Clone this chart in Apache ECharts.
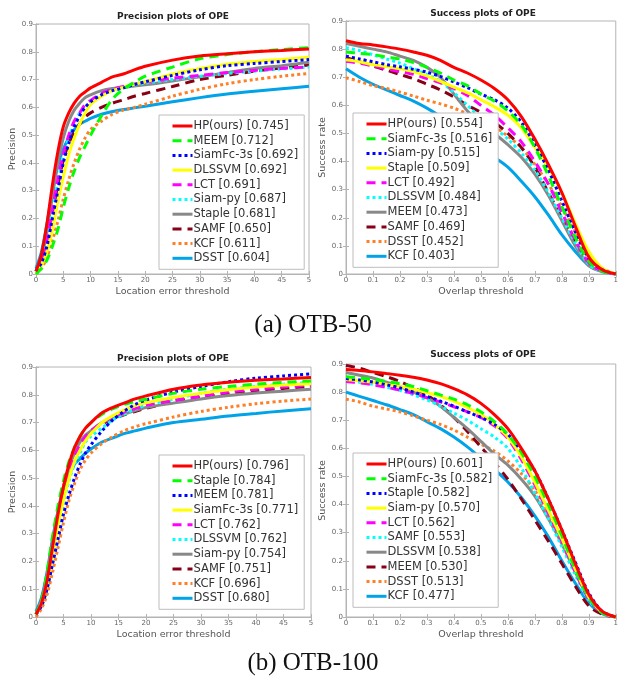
<!DOCTYPE html>
<html><head><meta charset="utf-8">
<script src="https://cdn.jsdelivr.net/npm/echarts@6/dist/echarts.min.js"></script>
<style>html,body{margin:0;padding:0;background:#fff}#c{width:621px;height:681px}</style>
</head><body><div id="c"></div><script>
// ---------- data ----------
const precX = [0,1,2,3,4,5,6,7,8,9,10,12,14,16,18,20,25,30,35,40,45,50];
const succX = [0,0.05,0.1,0.15,0.2,0.25,0.3,0.35,0.4,0.45,0.5,0.55,0.6,0.65,0.7,0.75,0.8,0.85,0.9,0.95,1];
const yTickLabels = ['0','0.1','0.2','0.3','0.4','0.5','0.6','0.7','0.8','0.9'];
const precTickLabels = ['0','5','10','15','20','25','30','35','40','45','5'];
const succTickLabels = ['0','0.1','0.2','0.3','0.4','0.5','0.6','0.7','0.8','0.9','1'];

// OTB-50 precision
const prec50Names  = ['HP(ours)','MEEM','SiamFc-3s','DLSSVM','LCT','Siam-py','Staple','SAMF','KCF','DSST'];
const prec50Scores = ['0.745','0.712','0.692','0.692','0.691','0.687','0.681','0.650','0.611','0.604'];
const prec50Values = [
 [0.01,0.07,0.18,0.32,0.44,0.53,0.58,0.615,0.64,0.655,0.67,0.69,0.71,0.72,0.735,0.748,0.77,0.785,0.793,0.80,0.805,0.81],
 [0.0,0.02,0.05,0.1,0.16,0.24,0.31,0.37,0.42,0.46,0.5,0.57,0.63,0.665,0.69,0.712,0.745,0.775,0.79,0.80,0.808,0.815],
 [0.01,0.04,0.1,0.2,0.3,0.4,0.47,0.53,0.57,0.6,0.62,0.645,0.66,0.67,0.682,0.692,0.715,0.735,0.75,0.758,0.765,0.772],
 [0.0,0.03,0.08,0.16,0.26,0.35,0.43,0.49,0.54,0.58,0.61,0.64,0.66,0.672,0.683,0.692,0.72,0.74,0.755,0.765,0.772,0.78],
 [0.01,0.05,0.12,0.23,0.34,0.43,0.5,0.55,0.58,0.61,0.625,0.65,0.665,0.675,0.684,0.691,0.705,0.715,0.725,0.733,0.74,0.745],
 [0.01,0.05,0.12,0.22,0.33,0.42,0.49,0.54,0.58,0.6,0.62,0.645,0.66,0.67,0.68,0.687,0.7,0.712,0.722,0.73,0.738,0.745],
 [0.01,0.06,0.15,0.28,0.4,0.49,0.55,0.59,0.615,0.635,0.645,0.66,0.668,0.672,0.677,0.681,0.695,0.71,0.725,0.74,0.75,0.762],
 [0.01,0.05,0.12,0.22,0.32,0.41,0.47,0.51,0.54,0.565,0.58,0.6,0.615,0.627,0.64,0.65,0.675,0.7,0.715,0.73,0.742,0.752],
 [0.0,0.02,0.06,0.12,0.19,0.27,0.34,0.4,0.45,0.49,0.52,0.55,0.575,0.59,0.6,0.611,0.64,0.665,0.685,0.7,0.712,0.722],
 [0.02,0.08,0.18,0.3,0.39,0.45,0.49,0.52,0.54,0.55,0.56,0.575,0.585,0.592,0.598,0.604,0.62,0.635,0.648,0.658,0.667,0.676]
];

// OTB-50 success
const succ50Names  = ['HP(ours)','SiamFc-3s','Siam-py','Staple','LCT','DLSSVM','MEEM','SAMF','DSST','KCF'];
const succ50Scores = ['0.554','0.516','0.515','0.509','0.492','0.484','0.473','0.469','0.452','0.403'];
const succ50Values = [
 [0.83,0.82,0.815,0.808,0.80,0.79,0.778,0.76,0.735,0.715,0.69,0.66,0.62,0.56,0.48,0.39,0.29,0.17,0.06,0.015,0],
 [0.79,0.785,0.78,0.772,0.765,0.752,0.735,0.715,0.69,0.67,0.64,0.615,0.58,0.53,0.45,0.35,0.24,0.13,0.045,0.01,0],
 [0.775,0.765,0.755,0.745,0.737,0.728,0.718,0.703,0.683,0.663,0.64,0.62,0.59,0.54,0.46,0.37,0.26,0.15,0.055,0.015,0],
 [0.762,0.755,0.745,0.738,0.73,0.72,0.705,0.685,0.665,0.645,0.62,0.595,0.565,0.52,0.45,0.38,0.29,0.18,0.08,0.02,0],
 [0.757,0.75,0.74,0.73,0.72,0.71,0.695,0.68,0.66,0.635,0.6,0.565,0.52,0.47,0.4,0.32,0.22,0.12,0.04,0.01,0],
 [0.805,0.795,0.78,0.765,0.75,0.73,0.71,0.685,0.645,0.6,0.555,0.52,0.48,0.43,0.37,0.29,0.2,0.11,0.035,0.008,0],
 [0.82,0.81,0.8,0.79,0.775,0.76,0.735,0.7,0.64,0.58,0.535,0.5,0.46,0.415,0.355,0.28,0.19,0.1,0.03,0.008,0],
 [0.77,0.755,0.74,0.725,0.71,0.695,0.675,0.655,0.63,0.6,0.575,0.54,0.5,0.45,0.38,0.29,0.2,0.11,0.035,0.01,0],
 [0.698,0.685,0.67,0.66,0.647,0.633,0.618,0.605,0.59,0.57,0.55,0.525,0.49,0.45,0.39,0.32,0.24,0.15,0.07,0.02,0],
 [0.73,0.7,0.675,0.655,0.635,0.615,0.59,0.56,0.525,0.49,0.45,0.415,0.38,0.33,0.275,0.21,0.14,0.08,0.03,0.01,0]
];

// OTB-100 precision
const prec100Names  = ['HP(ours)','Staple','MEEM','SiamFc-3s','LCT','DLSSVM','Siam-py','SAMF','KCF','DSST'];
const prec100Scores = ['0.796','0.784','0.781','0.771','0.762','0.762','0.754','0.751','0.696','0.680'];
const prec100Values = [
 [0.01,0.05,0.13,0.25,0.37,0.47,0.55,0.61,0.65,0.68,0.7,0.735,0.755,0.77,0.785,0.796,0.82,0.835,0.845,0.852,0.857,0.862],
 [0.01,0.06,0.16,0.29,0.4,0.49,0.56,0.61,0.65,0.68,0.7,0.73,0.75,0.765,0.776,0.784,0.805,0.82,0.83,0.838,0.845,0.85],
 [0.01,0.04,0.1,0.19,0.28,0.37,0.44,0.5,0.55,0.59,0.62,0.67,0.71,0.74,0.765,0.781,0.81,0.83,0.847,0.86,0.868,0.875],
 [0.01,0.05,0.12,0.22,0.33,0.42,0.5,0.56,0.6,0.635,0.66,0.7,0.725,0.745,0.76,0.771,0.79,0.805,0.818,0.828,0.835,0.84],
 [0.01,0.05,0.13,0.25,0.37,0.46,0.53,0.58,0.62,0.65,0.67,0.7,0.72,0.737,0.75,0.762,0.78,0.795,0.81,0.82,0.828,0.835],
 [0.01,0.04,0.1,0.2,0.31,0.41,0.49,0.55,0.59,0.63,0.65,0.68,0.71,0.73,0.748,0.762,0.785,0.805,0.82,0.83,0.838,0.845],
 [0.01,0.06,0.15,0.27,0.38,0.47,0.54,0.59,0.63,0.655,0.67,0.7,0.715,0.73,0.743,0.754,0.77,0.785,0.797,0.806,0.813,0.82],
 [0.01,0.06,0.15,0.27,0.38,0.47,0.54,0.59,0.63,0.65,0.67,0.695,0.713,0.728,0.74,0.751,0.775,0.79,0.803,0.815,0.823,0.83],
 [0.0,0.03,0.08,0.16,0.25,0.34,0.42,0.48,0.53,0.565,0.59,0.625,0.65,0.67,0.685,0.696,0.72,0.74,0.755,0.768,0.777,0.785],
 [0.02,0.07,0.16,0.28,0.38,0.46,0.51,0.55,0.57,0.59,0.605,0.63,0.645,0.66,0.67,0.68,0.7,0.712,0.724,0.733,0.742,0.75]
];

// OTB-100 success
const succ100Names  = ['HP(ours)','SiamFc-3s','Staple','Siam-py','LCT','SAMF','DLSSVM','MEEM','DSST','KCF'];
const succ100Scores = ['0.601','0.582','0.582','0.570','0.562','0.553','0.538','0.530','0.513','0.477'];
const succ100Values = [
 [0.88,0.877,0.872,0.866,0.86,0.853,0.843,0.83,0.812,0.79,0.76,0.72,0.67,0.6,0.52,0.42,0.31,0.19,0.08,0.02,0],
 [0.855,0.85,0.845,0.838,0.83,0.82,0.805,0.79,0.775,0.755,0.73,0.695,0.65,0.585,0.5,0.4,0.29,0.17,0.07,0.015,0],
 [0.848,0.843,0.836,0.826,0.815,0.8,0.785,0.768,0.75,0.73,0.71,0.685,0.65,0.59,0.52,0.42,0.31,0.195,0.085,0.02,0],
 [0.845,0.84,0.835,0.828,0.82,0.81,0.798,0.785,0.768,0.745,0.72,0.685,0.64,0.57,0.48,0.38,0.28,0.17,0.07,0.018,0],
 [0.838,0.833,0.826,0.817,0.807,0.795,0.78,0.765,0.748,0.73,0.71,0.68,0.635,0.56,0.47,0.37,0.27,0.16,0.065,0.016,0],
 [0.84,0.835,0.828,0.818,0.806,0.79,0.772,0.75,0.725,0.7,0.67,0.64,0.6,0.53,0.44,0.35,0.25,0.15,0.06,0.015,0],
 [0.87,0.86,0.85,0.835,0.82,0.8,0.78,0.75,0.71,0.67,0.625,0.58,0.54,0.49,0.43,0.35,0.26,0.16,0.065,0.015,0],
 [0.895,0.885,0.87,0.855,0.838,0.815,0.79,0.755,0.71,0.66,0.605,0.55,0.49,0.42,0.345,0.27,0.19,0.11,0.04,0.01,0],
 [0.775,0.765,0.75,0.74,0.73,0.715,0.7,0.685,0.665,0.64,0.615,0.59,0.555,0.51,0.45,0.37,0.28,0.18,0.08,0.02,0],
 [0.8,0.785,0.77,0.755,0.738,0.72,0.695,0.67,0.64,0.605,0.565,0.525,0.48,0.425,0.36,0.285,0.2,0.12,0.05,0.012,0]
];

// ---------- styles (by rank) ----------
const rankColors = ['#ff0000','#00ff00','#0000ff','#ffff00','#ff00ff','#00ffff','#888888','#880015','#ff7f27','#00a2e8'];
const rankDash = ['solid',[9,6],[3,3],'solid',[9,6],[3,3],'solid',[9,6],[3,3],'solid'];

const panels = [
  {x:precX, names:prec50Names, scores:prec50Scores, vals:prec50Values, kind:'prec',
   grid:{left:36, top:24, width:273, height:250}, title:'Precision plots of OPE', tx:173, ty:17,
   legend:{left:159, top:115}},
  {x:succX, names:succ50Names, scores:succ50Scores, vals:succ50Values, kind:'succ',
   grid:{left:346, top:21, width:274, height:253}, title:'Success plots of OPE', tx:483, ty:14,
   legend:{left:353, top:113}},
  {x:precX, names:prec100Names, scores:prec100Scores, vals:prec100Values, kind:'prec',
   grid:{left:36, top:367, width:275, height:250}, title:'Precision plots of OPE', tx:173, ty:359,
   legend:{left:159, top:455}},
  {x:succX, names:succ100Names, scores:succ100Scores, vals:succ100Values, kind:'succ',
   grid:{left:346, top:364, width:274, height:253}, title:'Success plots of OPE', tx:483, ty:355,
   legend:{left:353, top:453}}
];

const axisCol = '#b4b4b4';
const labelCol = '#666';
const FONT = '"DejaVu Sans", sans-serif';

const option = {
  animation:false,
  backgroundColor:'#fff',
  grid:[], xAxis:[], yAxis:[], series:[], legend:[], graphic:[]
};

panels.forEach((p, i) => {
  option.grid.push(Object.assign({show:true, borderColor:axisCol, borderWidth:1, backgroundColor:'#fff'}, p.grid));
  const isPrec = p.kind === 'prec';
  const xLabels = isPrec ? precTickLabels : succTickLabels;
  const xBase = {
    type:'value', gridIndex:i, min:0, max: isPrec ? 50 : 1, interval: isPrec ? 5 : 0.1,
    splitLine:{show:false},
    axisLine:{show:true, lineStyle:{color:axisCol, width:1}},
    axisTick:{show:true, inside:true, length:3, lineStyle:{color:axisCol}}
  };
  option.xAxis.push(Object.assign({}, xBase, {
    position:'bottom',
    name: isPrec ? 'Location error threshold' : 'Overlap threshold',
    nameLocation:'middle', nameGap:13,
    nameTextStyle:{fontFamily:FONT, fontSize:9.5, color:'#555'},
    axisLabel:{show:true, fontFamily:FONT, fontSize:7, color:labelCol, margin:3,
      formatter:(v) => xLabels[Math.round(v / (isPrec ? 5 : 0.1))]}
  }));
  option.xAxis.push(Object.assign({}, xBase, {position:'top', axisLabel:{show:false}}));
  const yBase = {
    type:'value', gridIndex:i, min:0, max:0.9, interval:0.1,
    splitLine:{show:false},
    axisLine:{show:true, lineStyle:{color:axisCol, width:1}},
    axisTick:{show:true, inside:true, length:3, lineStyle:{color:axisCol}}
  };
  option.yAxis.push(Object.assign({}, yBase, {
    position:'left',
    name: isPrec ? 'Precision' : 'Success rate',
    nameLocation:'middle', nameGap: isPrec ? 17 : 15,
    nameTextStyle:{fontFamily:FONT, fontSize:9.5, color:'#555'},
    axisLabel:{show:true, fontFamily:FONT, fontSize:7, color:labelCol, margin:3,
      formatter:(v) => yTickLabels[Math.round(v * 10)]}
  }));
  option.yAxis.push(Object.assign({}, yBase, {position:'right', axisLabel:{show:false}}));

  const legendNames = p.names.map((n, k) => n + ' [' + p.scores[k] + ']');
  // draw lower ranks first so rank 1 ends on top
  for (let k = p.names.length - 1; k >= 0; k--) {
    option.series.push({
      type:'line', name:legendNames[k], xAxisIndex:2*i, yAxisIndex:2*i,
      data: p.x.map((xv, j) => [xv, p.vals[k][j]]),
      smooth:0.3, showSymbol:false, symbol:'none', symbolSize:0, silent:true,
      lineStyle:{color:rankColors[k], width:3, type:rankDash[k], cap:'butt'},
      itemStyle:{color:rankColors[k]}
    });
  }
  option.legend.push({
    data:legendNames, orient:'vertical', left:p.legend.left, top:p.legend.top,
    backgroundColor:'#fff', borderColor:'#bdbdbd', borderWidth:1,
    padding:[5,6,5,12], itemWidth:20, itemHeight:12, itemGap:2.7,
    selectedMode:false,
    itemStyle:{opacity:0, borderWidth:0},
    lineStyle:{width:3},
    textStyle:{fontFamily:FONT, fontSize:11.5, color:'#333', padding:[0,0,0,-4]}
  });
  option.graphic.push({
    type:'text', x:p.tx, y:p.ty, silent:true,
    style:{text:p.title, font:'bold 9px ' + FONT, fill:'#222', textAlign:'center', textVerticalAlign:'middle'}
  });
});

option.graphic.push({type:'text', x:313, y:325, silent:true,
  style:{text:'(a) OTB-50', font:'25px "Liberation Serif", serif', fill:'#111', textAlign:'center', textVerticalAlign:'middle'}});
option.graphic.push({type:'text', x:313, y:663, silent:true,
  style:{text:'(b) OTB-100', font:'25px "Liberation Serif", serif', fill:'#111', textAlign:'center', textVerticalAlign:'middle'}});

const chart = echarts.init(document.getElementById('c'), null, {renderer:'canvas'});
chart.setOption(option);
</script></body></html>
